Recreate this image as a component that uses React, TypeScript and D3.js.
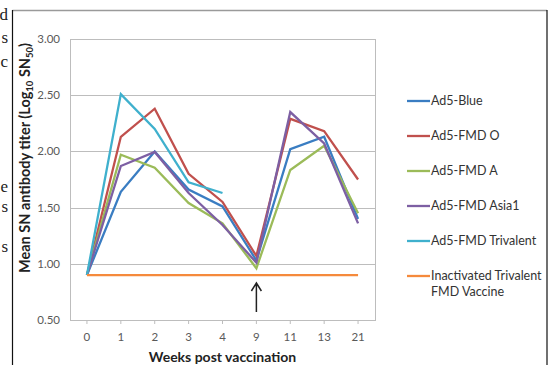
import React, { useEffect, useRef } from 'react'
import * as d3 from 'd3'

// weeks post vaccination (category axis)
const weeks = ['0', '1', '2', '3', '4', '9', '11', '13', '21']
const yTicks = [0.5, 1.0, 1.5, 2.0, 2.5, 3.0]

const ad5Blue = [0.9, 1.64, 2.0, 1.66, 1.51, 1.03, 2.02, 2.13, 1.4]
const fmdO = [0.9, 2.13, 2.38, 1.8, 1.55, 1.07, 2.29, 2.18, 1.75]
const fmdA = [0.9, 1.97, 1.855, 1.54, 1.36, 0.96, 1.835, 2.05, 1.45]
const fmdAsia1 = [0.9, 1.87, 1.995, 1.63, 1.345, 1.01, 2.35, 2.07, 1.36]
const fmdTrivalent = [0.9, 2.51, 2.2, 1.725, 1.63]
const inactivated = [0.9, 0.9, 0.9, 0.9, 0.9, 0.9, 0.9, 0.9, 0.9]

const seriesNames = ['Ad5-Blue', 'Ad5-FMD O', 'Ad5-FMD A', 'Ad5-FMD Asia1', 'Ad5-FMD Trivalent', 'Inactivated Trivalent|FMD Vaccine']
const seriesValues = [ad5Blue, fmdO, fmdA, fmdAsia1, fmdTrivalent, inactivated]
const colors = ['#3A7DC2', '#C0504D', '#9BBB59', '#7D5FA3', '#3FB0CD', '#F58A3C']

// cropped text fragments of the page at the left edge
const fragments = [
  { t: 'd', y: 20 }, { t: 's', y: 43 }, { t: 'c', y: 67 },
  { t: 'e', y: 192 }, { t: 's', y: 212 }, { t: 's', y: 252 },
]

export default function App() {
  const ref = useRef<SVGSVGElement>(null)

  useEffect(() => {
    const W = 553, H = 365
    const margin = { top: 39, right: 178, bottom: 45, left: 70 }
    const width = W - margin.left - margin.right
    const height = H - margin.top - margin.bottom

    const svg = d3.select(ref.current)
    svg.selectAll('*').remove()

    // page frame
    svg.append('rect').attr('width', W).attr('height', H).attr('fill', '#fff')
    svg.append('line').attr('x1', 12.5).attr('x2', 547).attr('y1', 10.5).attr('y2', 10.5)
      .attr('stroke', '#9a9a9a').attr('stroke-width', 1.5)
    svg.append('line').attr('x1', 12.5).attr('x2', 12.5).attr('y1', 10).attr('y2', H)
      .attr('stroke', '#111').attr('stroke-width', 1.2)
    svg.append('line').attr('x1', 547).attr('x2', 547).attr('y1', 10).attr('y2', H)
      .attr('stroke', '#111').attr('stroke-width', 1.2)

    svg.selectAll('.frag').data(fragments).enter().append('text')
      .attr('x', 8).attr('y', d => d.y).attr('text-anchor', 'end')
      .attr('font-family', 'Liberation Serif, serif').attr('font-size', 17).attr('fill', '#222')
      .text(d => d.t)

    const x = d3.scaleBand().domain(weeks).range([0, width])
    const y = d3.scaleLinear().domain([0.5, 3.0]).range([height, 0])

    const g = svg.append('g').attr('transform', `translate(${margin.left},${margin.top})`)

    // gridlines
    g.selectAll('.grid').data(yTicks.slice(1)).enter().append('line')
      .attr('x1', 0).attr('x2', width)
      .attr('y1', d => Math.round(y(d)) + 0.5).attr('y2', d => Math.round(y(d)) + 0.5)
      .attr('stroke', '#BDBDBD').attr('stroke-width', 1)

    // plot border
    g.append('rect').attr('x', 0.5).attr('y', 0.5).attr('width', width).attr('height', height)
      .attr('fill', 'none').attr('stroke', '#BDBDBD').attr('stroke-width', 1)

    // x ticks at category centres
    g.selectAll('.xt').data(weeks).enter().append('line')
      .attr('x1', d => x(d)! + x.bandwidth() / 2).attr('x2', d => x(d)! + x.bandwidth() / 2)
      .attr('y1', height).attr('y2', height + 4)
      .attr('stroke', '#BDBDBD')

    g.selectAll('.xl').data(weeks).enter().append('text')
      .attr('x', d => x(d)! + x.bandwidth() / 2).attr('y', height + 21)
      .attr('text-anchor', 'middle').attr('font-family', 'Lato, sans-serif')
      .attr('font-size', 11.5).attr('fill', '#595959').text(d => d)

    g.selectAll('.yl').data(yTicks).enter().append('text')
      .attr('x', -10).attr('y', d => y(d) + 4)
      .attr('text-anchor', 'end').attr('font-family', 'Lato, sans-serif')
      .attr('font-size', 11.5).attr('fill', '#595959').text(d => d.toFixed(2))

    // lines
    const line = d3.line<number>()
      .x((d, i) => x(weeks[i])! + x.bandwidth() / 2)
      .y(d => y(d))

    seriesValues.forEach((vals, i) => {
      g.append('path').datum(vals)
        .attr('d', line)
        .attr('fill', 'none').attr('stroke', colors[i]).attr('stroke-width', 2.3)
        .attr('stroke-linejoin', 'miter')
    })

    // arrow at week 9
    const ax = x('9')! + x.bandwidth() / 2
    g.append('path')
      .attr('d', `M${ax},${height - 8} L${ax},${height - 37} M${ax - 5},${height - 29} L${ax},${height - 37} L${ax + 5},${height - 29}`)
      .attr('fill', 'none').attr('stroke', '#222').attr('stroke-width', 1.5)

    // axis titles
    const yt = svg.append('text')
      .attr('transform', `translate(30,158) rotate(-90)`)
      .attr('text-anchor', 'middle').attr('font-family', 'Lato, sans-serif')
      .attr('font-weight', 'bold').attr('font-size', 14.5).attr('fill', '#222')
    yt.append('tspan').text('Mean SN antibody titer (Log')
    yt.append('tspan').attr('font-size', 9.5).attr('dy', 3).text('10')
    yt.append('tspan').attr('dy', -3).text(' SN')
    yt.append('tspan').attr('font-size', 9.5).attr('dy', 3).text('50')
    yt.append('tspan').attr('dy', -3).text(')')

    svg.append('text')
      .attr('x', margin.left + width / 2).attr('y', H - 3)
      .attr('text-anchor', 'middle').attr('font-family', 'Lato, sans-serif')
      .attr('font-weight', 'bold').attr('font-size', 14).attr('fill', '#222')
      .text('Weeks post vaccination')

    // legend
    const legendY = [101, 136, 171, 206, 241, 276]
    const lg = svg.selectAll('.lg').data(seriesNames).enter().append('g')
      .attr('transform', (d, i) => `translate(407,${legendY[i]})`)
    lg.append('line').attr('x1', 0).attr('x2', 23).attr('y1', 0).attr('y2', 0)
      .attr('stroke', (d, i) => colors[i]).attr('stroke-width', 2.3)
    lg.each(function (d) {
      const t = d3.select(this).append('text')
        .attr('x', 24).attr('y', 4).attr('font-family', 'Lato, sans-serif')
        .attr('font-size', 12.5).attr('fill', '#333')
      d.split('|').forEach((part, j) => {
        t.append('tspan').attr('x', 24).attr('dy', j === 0 ? 0 : 16).text(part)
      })
    })
  }, [])

  return (
    <svg ref={ref} width={553} height={365}
      style={{ position: 'absolute', left: 0, top: 0, display: 'block' }} />
  )
}
